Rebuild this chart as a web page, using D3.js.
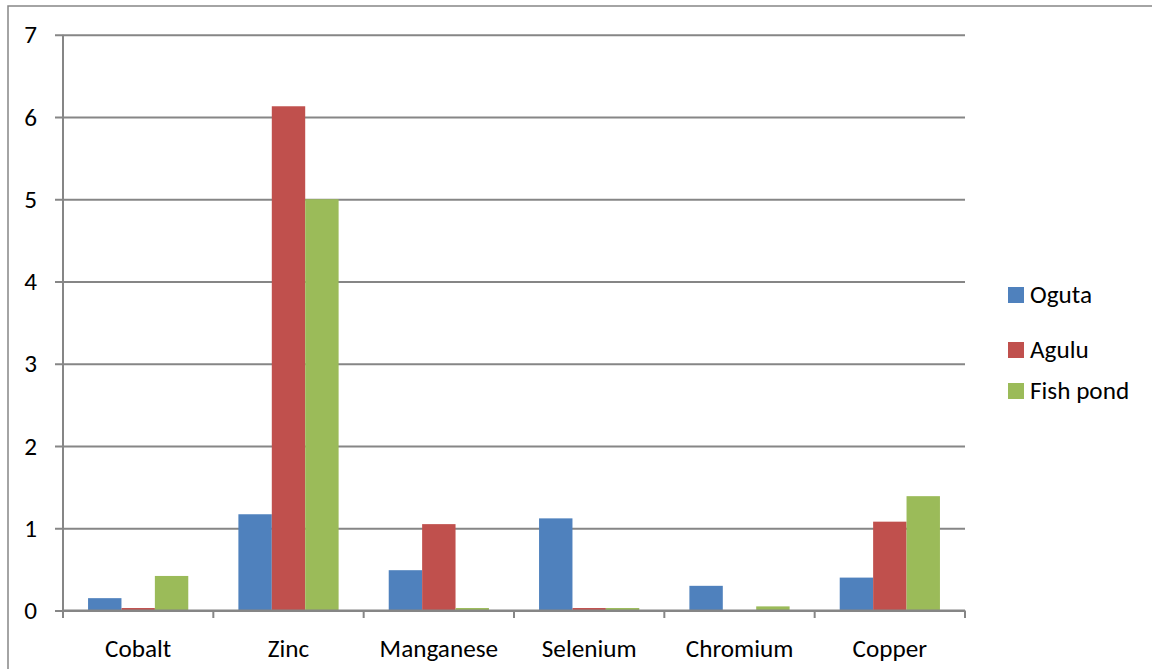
<!DOCTYPE html>
<html>
<head>
<meta charset="utf-8">
<script src="https://cdn.jsdelivr.net/npm/d3@7"></script>
<style>
	body { margin: 0; background: #fff; }
	text { font-family: Carlito, Calibri, "Liberation Sans", Arial, sans-serif; fill: #000; }
</style>
</head>
<body>
<div id="chart"></div>
<script>
var categories = ["Cobalt", "Zinc", "Manganese", "Selenium", "Chromium", "Copper"];
var seriesNames = ["Oguta", "Agulu", "Fish pond"];
var oguta = [0.15, 1.17, 0.49, 1.12, 0.30, 0.40];
var agulu = [0.03, 6.13, 1.05, 0.03, 0, 1.08];
var fishPond = [0.42, 5.0, 0.03, 0.03, 0.05, 1.39];
var yTicks = [0, 1, 2, 3, 4, 5, 6, 7];
var colors = ["#4F81BD", "#C0504D", "#9BBB59"];

var w = 1152,
	h = 669,
	svg = d3
		.select("#chart")
		.append("svg")
		.attr("width", w)
		.attr("height", h);

var plot = { left: 63, right: 965, top: 34.7, bottom: 610.5 };
var gridColor = "#868686";
var fontSize = "25.2px";

// outer chart frame (runs off the right and bottom edges)
svg.append("rect")
	.attr("x", 8)
	.attr("y", 6)
	.attr("width", 1160)
	.attr("height", 680)
	.attr("fill", "none")
	.attr("stroke", gridColor)
	.attr("stroke-width", 1.5);

var y = d3.scaleLinear()
	.domain([0, 7])
	.range([plot.bottom, plot.top]);

var x0 = d3.scaleBand()
	.domain(categories)
	.range([plot.left, plot.right]);

var x1 = d3.scaleBand()
	.domain(seriesNames)
	.range([0, x0.bandwidth()])
	.paddingInner(0)
	.paddingOuter(0.75);

// gridlines + outward ticks
var grid = svg.append("g")
	.attr("transform", `translate(${plot.right}, 0)`)
	.call(d3.axisLeft(y).tickValues(yTicks).tickSize(plot.right - plot.left + 8).tickFormat(""));
grid.select(".domain").remove();
grid.selectAll("line").attr("stroke", gridColor).attr("stroke-width", 2);

var yAxis = svg.append("g")
	.attr("transform", `translate(${plot.left}, 0)`)
	.call(d3.axisLeft(y).tickValues(yTicks).tickFormat(d3.format("d")).tickSize(8).tickPadding(18));
yAxis.select(".domain").remove();
yAxis.selectAll("line").remove();
yAxis.selectAll("text").style("font-size", fontSize).style("fill", "#000");

// bars
var seriesData = [oguta, agulu, fishPond];
seriesData.forEach(function(values, s) {
	svg.append("g")
		.selectAll("rect")
		.data(values)
		.enter()
		.append("rect")
		.attr("x", function(d, i) { return x0(categories[i]) + x1(seriesNames[s]); })
		.attr("y", function(d) { return y(d); })
		.attr("width", x1.bandwidth())
		.attr("height", function(d) { return y(0) - y(d); })
		.attr("fill", colors[s]);
});

// vertical axis line
svg.append("line")
	.attr("x1", plot.left).attr("x2", plot.left)
	.attr("y1", y(7)).attr("y2", plot.bottom + 7.5)
	.attr("stroke", gridColor)
	.attr("stroke-width", 2);

// x axis baseline and boundary ticks
svg.append("line")
	.attr("x1", plot.left).attr("x2", plot.right)
	.attr("y1", plot.bottom).attr("y2", plot.bottom)
	.attr("stroke", gridColor)
	.attr("stroke-width", 2);

var bounds = categories.map(function(c) { return x0(c); }).concat([x0.range()[1]]);
svg.append("g")
	.selectAll("line")
	.data(bounds)
	.enter()
	.append("line")
	.attr("x1", function(d) { return d; })
	.attr("x2", function(d) { return d; })
	.attr("y1", plot.bottom)
	.attr("y2", plot.bottom + 7.5)
	.attr("stroke", gridColor)
	.attr("stroke-width", 2);

var xAxis = svg.append("g")
	.attr("transform", `translate(0, ${plot.bottom})`)
	.call(d3.axisBottom(x0).tickSize(0).tickPadding(28.5));
xAxis.select(".domain").remove();
xAxis.selectAll("text").style("font-size", fontSize).style("fill", "#000");

// legend
var legendY = [287, 342, 383];
var legend = svg.append("g")
	.selectAll("g")
	.data(seriesNames)
	.enter()
	.append("g")
	.attr("transform", function(d, i) { return `translate(1008, ${legendY[i]})`; });

legend.append("rect")
	.attr("width", 16)
	.attr("height", 16)
	.attr("fill", function(d, i) { return colors[i]; });

legend.append("text")
	.attr("x", 22)
	.attr("y", 16)
	.style("font-size", fontSize)
	.text(function(d) { return d; });
</script>
</body>
</html>
